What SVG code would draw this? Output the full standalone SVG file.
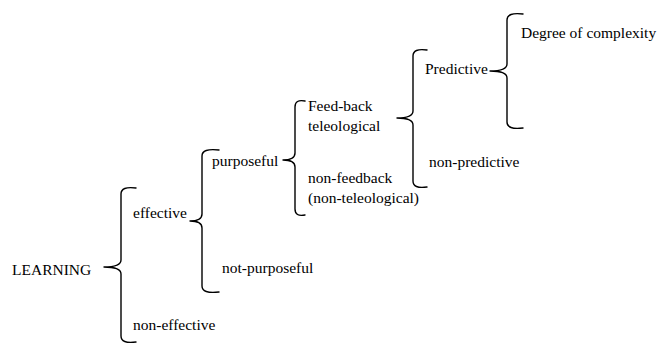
<svg xmlns="http://www.w3.org/2000/svg" width="661" height="347" viewBox="0 0 661 347">
<style>
text{font-family:'Liberation Serif','Times New Roman',Times,'DejaVu Serif',serif;font-size:15.5px;fill:#000}
.b{fill:none;stroke:#000;stroke-width:1.4;stroke-linecap:round;stroke-linejoin:round}
</style>
<rect width="661" height="347" fill="#fff"/>
<g id="connectors">
<path class="b" d="M136,188 Q121,186 121,194 L121,260 Q121,267 104,267 Q121,267 121,274 L121,336 Q121,344 136,342"/>
<path class="b" d="M219,150 Q202,148 202,156 L202,214 Q202,221 190,221 Q202,221 202,228 L202,286 Q202,294 219,292"/>
<path class="b" d="M305,101 Q295,99 295,107 L295,153 Q295,160 283,160 Q295,160 295,167 L295,209 Q295,217 305,215"/>
<path class="b" d="M427,50 Q413,48 413,56 L413,111 Q413,118 397,118 Q413,118 413,125 L413,181 Q413,189 427,187"/>
<path class="b" d="M523,14 Q507,12 507,20 L507,64 Q507,71 490,71 Q507,71 507,78 L507,122 Q507,130 523,128"/>
</g>
<g id="learning"><text x="12" y="275">LEARNING</text></g>
<g id="effective"><text x="133" y="218">effective</text></g>
<g id="non-effective"><text x="133" y="330">non-effective</text></g>
<g id="purposeful"><text x="212" y="166">purposeful</text></g>
<g id="not-purposeful"><text x="222" y="273">not-purposeful</text></g>
<g id="feedback"><text x="308" y="111">Feed-back</text><text x="308" y="131">teleological</text></g>
<g id="non-feedback"><text x="308" y="183">non-feedback</text><text x="308" y="203">(non-teleological)</text></g>
<g id="predictive"><text x="425" y="74">Predictive</text></g>
<g id="non-predictive"><text x="429" y="167">non-predictive</text></g>
<g id="complexity"><text x="521" y="38">Degree of complexity</text></g>
</svg>
